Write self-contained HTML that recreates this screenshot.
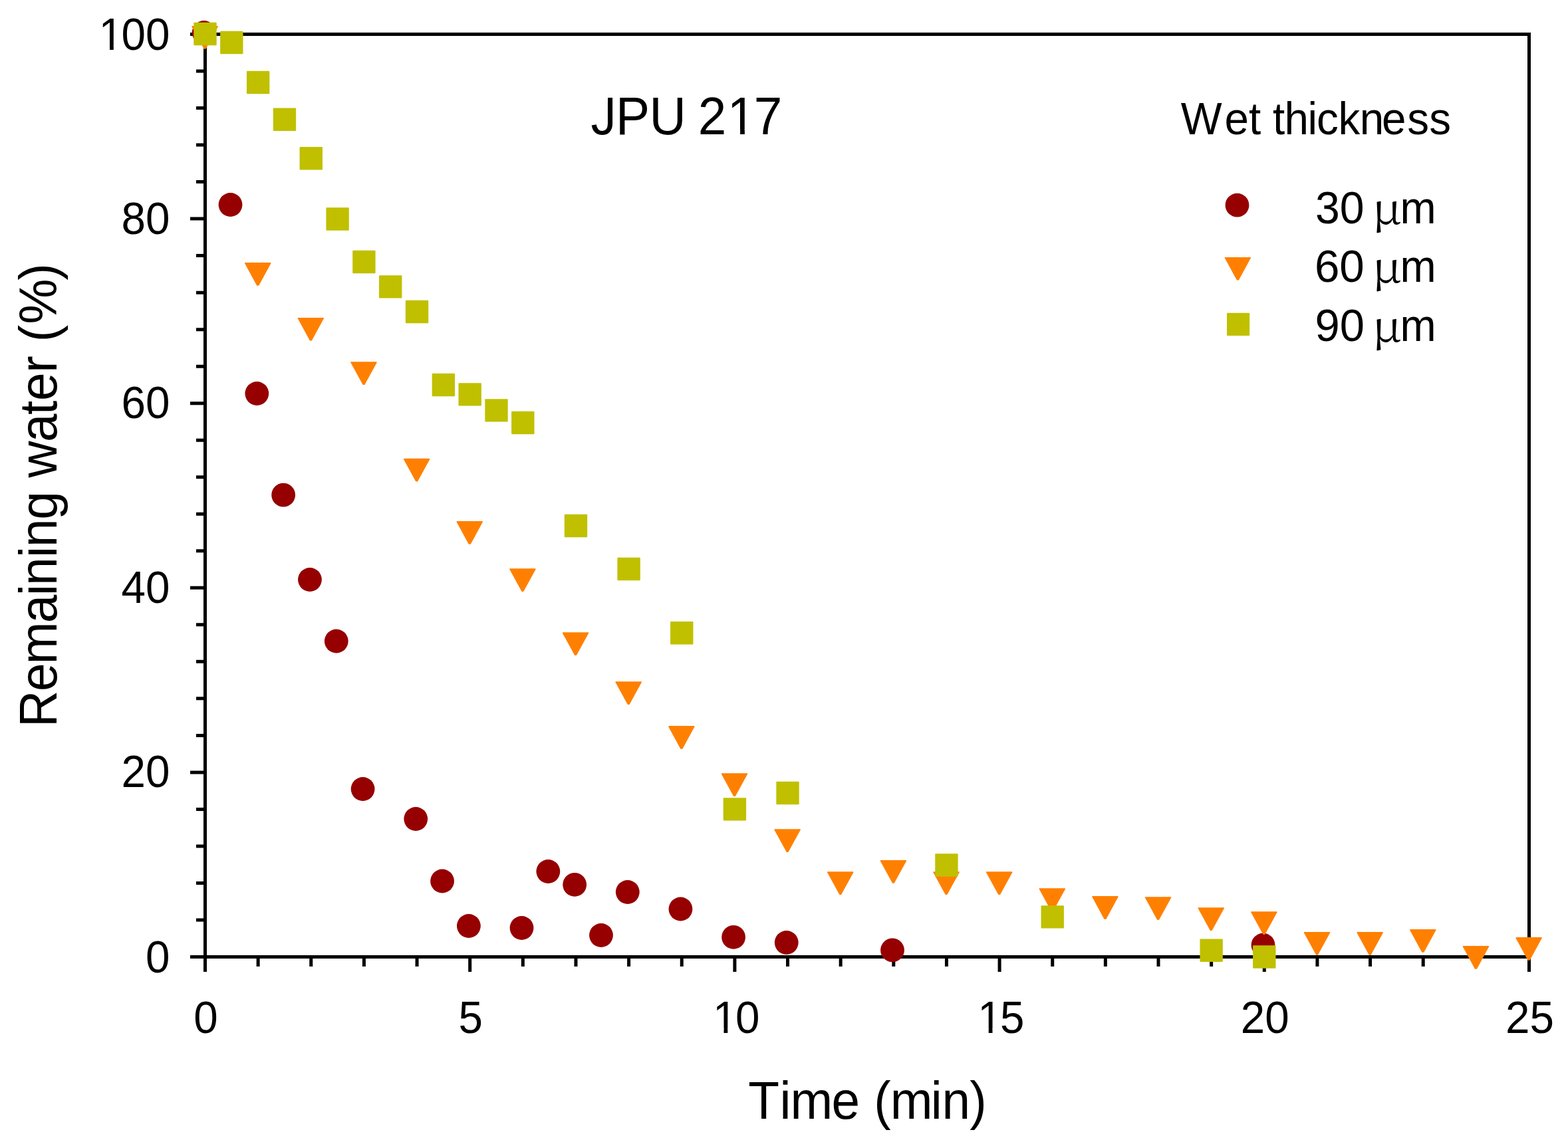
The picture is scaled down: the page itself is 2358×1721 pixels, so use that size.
<!DOCTYPE html>
<html><head><meta charset="utf-8"><title>Remaining water vs time</title>
<style>html,body{margin:0;padding:0;background:#fff;overflow:hidden;width:2358px;height:1721px;}svg{display:block;}</style></head>
<body><svg width="2358" height="1721" viewBox="0 0 2358 1721"><rect x="308.5" y="51.5" width="1991" height="1388" fill="none" stroke="#000" stroke-width="5"/>
<path d="M286 1439.5H308.5M295 1383.98H308.5M295 1328.46H308.5M295 1272.94H308.5M295 1217.42H308.5M286 1161.9H308.5M295 1106.38H308.5M295 1050.86H308.5M295 995.34H308.5M295 939.82H308.5M286 884.3H308.5M295 828.78H308.5M295 773.26H308.5M295 717.74H308.5M295 662.22H308.5M286 606.7H308.5M295 551.18H308.5M295 495.66H308.5M295 440.14H308.5M295 384.62H308.5M286 329.1H308.5M295 273.58H308.5M295 218.06H308.5M295 162.54H308.5M295 107.02H308.5M286 51.5H308.5M308.5 1439.5V1462M388.14 1439.5V1454M467.78 1439.5V1454M547.42 1439.5V1454M627.06 1439.5V1454M706.7 1439.5V1462M786.34 1439.5V1454M865.98 1439.5V1454M945.62 1439.5V1454M1025.26 1439.5V1454M1104.9 1439.5V1462M1184.54 1439.5V1454M1264.18 1439.5V1454M1343.82 1439.5V1454M1423.46 1439.5V1454M1503.1 1439.5V1462M1582.74 1439.5V1454M1662.38 1439.5V1454M1742.02 1439.5V1454M1821.66 1439.5V1454M1901.3 1439.5V1462M1980.94 1439.5V1454M2060.58 1439.5V1454M2140.22 1439.5V1454M2219.86 1439.5V1454M2299.5 1439.5V1462" stroke="#000" stroke-width="5" fill="none"/>
<g style="font-family:'Liberation Sans',Arial,sans-serif;font-size:65.615px" fill="#000"><g transform="translate(255.4 1463.3) scale(1 1.041)"><text x="-36.492" y="0">0</text><g fill="#fff"></g></g><g transform="translate(255.4 1184.3) scale(1 1.041)"><text x="-72.984" y="0">20</text><g fill="#fff"></g></g><g transform="translate(255.4 906.7) scale(1 1.041)"><text x="-72.984" y="0">40</text><g fill="#fff"></g></g><g transform="translate(255.4 629.1) scale(1 1.041)"><text x="-72.984" y="0">60</text><g fill="#fff"></g></g><g transform="translate(255.4 351.5) scale(1 1.041)"><text x="-72.984" y="0">80</text><g fill="#fff"></g></g><g transform="translate(255.4 74.5) scale(1 1.041)"><text x="-109.476" y="0"><tspan dx="2.595">1</tspan><tspan dx="-2.595">0</tspan>0</text><g fill="#fff"><rect x="-103.164" y="-6.183" width="12.783" height="7.465"/><rect x="-84.582" y="-6.183" width="12.271" height="7.465"/></g></g><g transform="translate(309.5 1553.6) scale(1 1.041)"><text x="-18.246" y="0">0</text><g fill="#fff"></g></g><g transform="translate(707.7 1553.6) scale(1 1.041)"><text x="-18.246" y="0">5</text><g fill="#fff"></g></g><g transform="translate(1105.9 1553.6) scale(1 1.041)"><text x="-36.492" y="0"><tspan dx="2.595">1</tspan><tspan dx="-2.595">0</tspan></text><g fill="#fff"><rect x="-30.18" y="-6.183" width="12.783" height="7.465"/><rect x="-11.598" y="-6.183" width="12.271" height="7.465"/></g></g><g transform="translate(1504.1 1553.6) scale(1 1.041)"><text x="-36.492" y="0"><tspan dx="2.595">1</tspan><tspan dx="-2.595">5</tspan></text><g fill="#fff"><rect x="-30.18" y="-6.183" width="12.783" height="7.465"/><rect x="-11.598" y="-6.183" width="12.271" height="7.465"/></g></g><g transform="translate(1902.3 1553.6) scale(1 1.041)"><text x="-36.492" y="0">20</text><g fill="#fff"></g></g><g transform="translate(2300.5 1553.6) scale(1 1.041)"><text x="-36.492" y="0">25</text><g fill="#fff"></g></g></g>
<g transform="translate(0 1682.8) scale(1 1.041)"><text x="1125.18 1172.578 1188.515 1250.447 1293.034 1314.352 1338.715 1399.678 1416.515 1458.251" y="0" style="font-family:'Liberation Sans',Arial,sans-serif;font-size:76.574px">Time (min)</text></g>
<g transform="translate(0 201.8) scale(1 1.041)"><text x="888.604 925.919 976.492 1031.792 1049.849 1093.844 1133.874" y="0" style="font-family:'Liberation Sans',Arial,sans-serif;font-size:76.574px">JPU 217</text><g fill="#fff"><rect x="902.475" y="-54.178" width="11.628" height="8.824"/><rect x="1098.182" y="-7.216" width="14.918" height="8.712"/><rect x="1119.868" y="-7.216" width="14.32" height="8.712"/></g></g>
<g transform="translate(0 201.9) scale(1 1.041)"><text x="1775.712 1841.413 1878.007 1896.237 1914.007 1931.451 1966.611 1980.113 2012.479 2044.743 2078.113 2116.174 2149.174" y="0" style="font-family:'Liberation Sans',Arial,sans-serif;font-size:65.615px">Wet thickness</text></g>
<g transform="translate(85 0) rotate(-90) scale(1 1.041)"><text x="-1094.081 -1040.053 -999.185 -937.153 -896.022 -880.885 -838.822 -823.085 -781.816 -739.229 -718.688 -664.953 -623.959 -603.053 -560.785 -535.285 -514.248 -487.629 -421.749" y="0" style="font-family:'Liberation Sans',Arial,sans-serif;font-size:76.574px">Remaining water (%)</text></g>
<g transform="translate(0 335.9) scale(1 1.041)"><text style="font-family:'Liberation Sans',Arial,sans-serif;font-size:65.615px"><tspan x="1977.973" textLength="73.633" lengthAdjust="spacingAndGlyphs">30</tspan> <tspan x="2063.545" y="1.408" textLength="44.071" lengthAdjust="spacingAndGlyphs" style="font-family:'Noto Serif CJK SC','Liberation Serif',serif;font-size:62.237px">μ</tspan><tspan x="2105.537" y="0" textLength="54.184" lengthAdjust="spacingAndGlyphs">m</tspan></text></g>
<g transform="translate(0 423.9) scale(1 1.041)"><text style="font-family:'Liberation Sans',Arial,sans-serif;font-size:65.615px"><tspan x="1976.907" textLength="74.951" lengthAdjust="spacingAndGlyphs">60</tspan> <tspan x="2063.545" y="1.408" textLength="44.071" lengthAdjust="spacingAndGlyphs" style="font-family:'Noto Serif CJK SC','Liberation Serif',serif;font-size:62.237px">μ</tspan><tspan x="2105.537" y="0" textLength="54.184" lengthAdjust="spacingAndGlyphs">m</tspan></text></g>
<g transform="translate(0 513.3) scale(1 1.041)"><text style="font-family:'Liberation Sans',Arial,sans-serif;font-size:65.615px"><tspan x="1977.434" textLength="74.51" lengthAdjust="spacingAndGlyphs">90</tspan> <tspan x="2063.545" y="1.016" textLength="44.071" lengthAdjust="spacingAndGlyphs" style="font-family:'Noto Serif CJK SC','Liberation Serif',serif;font-size:62.237px">μ</tspan><tspan x="2105.537" y="0" textLength="54.184" lengthAdjust="spacingAndGlyphs">m</tspan></text></g>
<g fill="#960000"><circle cx="306.7" cy="49" r="17.9"/><circle cx="346.52" cy="308" r="17.9"/><circle cx="386.34" cy="592" r="17.9"/><circle cx="426.16" cy="744.6" r="17.9"/><circle cx="465.98" cy="872" r="17.9"/><circle cx="505.8" cy="964.5" r="17.9"/><circle cx="545.62" cy="1187" r="17.9"/><circle cx="625.26" cy="1232" r="17.9"/><circle cx="665.08" cy="1325.5" r="17.9"/><circle cx="704.9" cy="1393" r="17.9"/><circle cx="784.54" cy="1396" r="17.9"/><circle cx="824.36" cy="1311" r="17.9"/><circle cx="864.18" cy="1330.8" r="17.9"/><circle cx="904" cy="1407" r="17.9"/><circle cx="943.82" cy="1342" r="17.9"/><circle cx="1023.46" cy="1367.5" r="17.9"/><circle cx="1103.1" cy="1409.8" r="17.9"/><circle cx="1182.74" cy="1418" r="17.9"/><circle cx="1342.02" cy="1429.4" r="17.9"/><circle cx="1899.5" cy="1421.7" r="17.9"/></g>
<g fill="#FF8000" stroke="#FF8000" stroke-width="1.6" stroke-linejoin="round"><path d="M289.15 39.8H327.05L309 72.9H307.2Z"/><path d="M368.79 395.9H406.69L388.64 429H386.84Z"/><path d="M448.43 478.7H486.33L468.28 511.8H466.48Z"/><path d="M528.07 545H565.97L547.92 578.1H546.12Z"/><path d="M607.71 690.6H645.61L627.56 723.7H625.76Z"/><path d="M687.35 784.9H725.25L707.2 818H705.4Z"/><path d="M766.99 856H804.89L786.84 889.1H785.04Z"/><path d="M846.63 952H884.53L866.48 985.1H864.68Z"/><path d="M926.27 1026H964.17L946.12 1059.1H944.32Z"/><path d="M1005.91 1092.9H1043.81L1025.76 1126H1023.96Z"/><path d="M1085.55 1164.1H1123.45L1105.4 1197.2H1103.6Z"/><path d="M1165.19 1248H1203.09L1185.04 1281.1H1183.24Z"/><path d="M1244.83 1312H1282.73L1264.68 1345.1H1262.88Z"/><path d="M1324.47 1294.8H1362.37L1344.32 1327.9H1342.52Z"/><path d="M1404.11 1312H1442.01L1423.96 1345.1H1422.16Z"/><path d="M1483.75 1312H1521.65L1503.6 1345.1H1501.8Z"/><path d="M1563.39 1337H1601.29L1583.24 1370.1H1581.44Z"/><path d="M1643.03 1348.9H1680.93L1662.88 1382H1661.08Z"/><path d="M1722.67 1350.1H1760.57L1742.52 1383.2H1740.72Z"/><path d="M1802.31 1366H1840.21L1822.16 1399.1H1820.36Z"/><path d="M1881.95 1372H1919.85L1901.8 1405.1H1900Z"/><path d="M1961.59 1402.8H1999.49L1981.44 1435.9H1979.64Z"/><path d="M2041.23 1402.9H2079.13L2061.08 1436H2059.28Z"/><path d="M2120.87 1398.9H2158.77L2140.72 1432H2138.92Z"/><path d="M2200.51 1423.9H2238.41L2220.36 1457H2218.56Z"/><path d="M2280.15 1410.9H2318.05L2300 1444H2298.2Z"/></g>
<g fill="#C0C000"><rect x="291.3" y="33.8" width="34.4" height="34.4" rx="1"/><rect x="331.12" y="46.8" width="34.4" height="34.4" rx="1"/><rect x="370.94" y="106.8" width="34.4" height="34.4" rx="1"/><rect x="410.76" y="162.6" width="34.4" height="34.4" rx="1"/><rect x="450.58" y="221.1" width="34.4" height="34.4" rx="1"/><rect x="490.4" y="312.3" width="34.4" height="34.4" rx="1"/><rect x="530.22" y="376.8" width="34.4" height="34.4" rx="1"/><rect x="570.04" y="414.2" width="34.4" height="34.4" rx="1"/><rect x="609.86" y="451.8" width="34.4" height="34.4" rx="1"/><rect x="649.68" y="561.8" width="34.4" height="34.4" rx="1"/><rect x="689.5" y="576.2" width="34.4" height="34.4" rx="1"/><rect x="729.32" y="600.2" width="34.4" height="34.4" rx="1"/><rect x="769.14" y="618.8" width="34.4" height="34.4" rx="1"/><rect x="848.78" y="773.8" width="34.4" height="34.4" rx="1"/><rect x="928.42" y="838.8" width="34.4" height="34.4" rx="1"/><rect x="1008.06" y="935.1" width="34.4" height="34.4" rx="1"/><rect x="1087.7" y="1200.2" width="34.4" height="34.4" rx="1"/><rect x="1167.34" y="1175.8" width="34.4" height="34.4" rx="1"/><rect x="1406.26" y="1284.3" width="34.4" height="34.4" rx="1"/><rect x="1565.54" y="1362.2" width="34.4" height="34.4" rx="1"/><rect x="1804.46" y="1412.6" width="34.4" height="34.4" rx="1"/><rect x="1884.1" y="1422.3" width="34.4" height="34.4" rx="1"/></g>
<circle cx="1860.5" cy="308.7" r="17.9" fill="#960000"/>
<g fill="#FF8000" stroke="#FF8000" stroke-width="1.6" stroke-linejoin="round"><path d="M1842.45 387.7H1880.35L1862.3 420.8H1860.5Z"/></g>
<rect x="1845" y="470.8" width="34.2" height="34.2" rx="1" fill="#C0C000"/></svg></body></html>
